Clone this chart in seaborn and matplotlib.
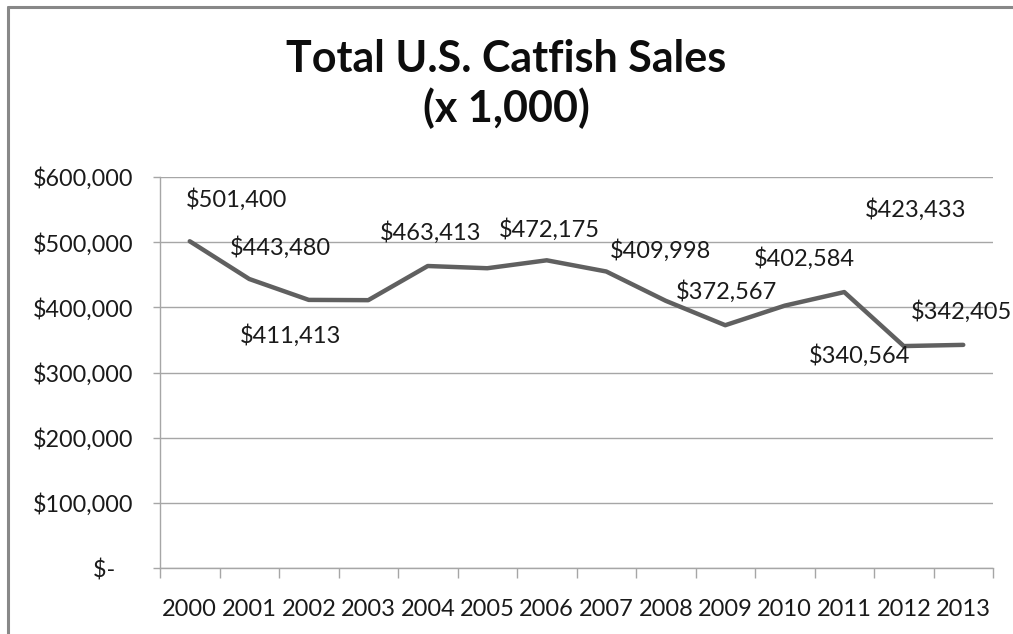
import matplotlib
matplotlib.use("Agg")
import matplotlib.pyplot as plt
from matplotlib.lines import Line2D
from matplotlib.ticker import FuncFormatter, FixedLocator
import seaborn as sns
import pandas as pd

years = ["2000", "2001", "2002", "2003", "2004", "2005", "2006",
         "2007", "2008", "2009", "2010", "2011", "2012", "2013"]
sales = [501400, 443480, 411413, 411000, 463413, 460000, 472175,
         455000, 409998, 372567, 402584, 423433, 340564, 342405]
# which points carry a data label (as shown in the reference)
labelled = [0, 1, 2, 4, 6, 8, 9, 10, 11, 12, 13]
# label offsets in pixels (dx, dy; dy positive = up)
label_offsets = {0: (47, 42), 1: (31, 31), 2: (-18, -36), 4: (3, 33),
                 6: (3, 31), 8: (-5, 50), 9: (1, 34), 10: (20, 47),
                 11: (71, 83), 12: (-44, -9), 13: (-2, 33)}
title = "Total U.S. Catfish Sales\n(x 1,000)"

sns.set_theme(style="white")
plt.rcParams['font.family'] = ['Lato', 'DejaVu Sans']

df = pd.DataFrame({"year": years, "sales": sales})

fig = plt.figure(figsize=(10.13, 6.34), dpi=100)
ax = fig.add_axes([160/1013, 1-568/634, (993-160)/1013, (568-177)/634])

sns.lineplot(data=df, x="year", y="sales", ax=ax, color="#606060",
             linewidth=3.2, sort=False)

ax.set_xlim(-0.5, len(years) - 0.5)
ax.set_ylim(0, 600000)
ax.set_yticks(range(0, 600001, 100000))

def fmt(v, pos):
    if v == 0:
        return "$-   "
    return "${:,.0f}".format(v)
ax.yaxis.set_major_formatter(FuncFormatter(fmt))

ax.grid(axis="y", color="#a6a6a6", linewidth=1)
ax.grid(axis="x", visible=False)
ax.set_xlabel("")
ax.set_ylabel("")

for s in ["top", "right"]:
    ax.spines[s].set_visible(False)
for s in ["left", "bottom"]:
    ax.spines[s].set_color("#a6a6a6")
    ax.spines[s].set_linewidth(1)

ax.tick_params(axis="y", which="major", left=True, length=5, width=1,
               color="#a6a6a6", labelsize=16.8, pad=14, labelcolor="#1a1a1a")
ax.tick_params(axis="x", which="major", bottom=False, labelsize=17,
               pad=16, labelcolor="#1a1a1a")
ax.xaxis.set_minor_locator(FixedLocator([i - 0.5 for i in range(len(years) + 1)]))
ax.tick_params(axis="x", which="minor", bottom=True, length=7, width=1,
               color="#a6a6a6")

for i in labelled:
    dx, dy = label_offsets[i]
    ax.annotate("${:,}".format(sales[i]), xy=(i, sales[i]),
                xytext=(dx * 0.72, dy * 0.72), textcoords="offset points",
                ha="center", va="center", fontsize=17, color="#1a1a1a",
                annotation_clip=False)

fig.text(0.5, 1 - 84/634, title, ha="center", va="center", fontsize=31,
         fontweight="bold", color="#0d0d0d", linespacing=1.22)

fig.add_artist(Line2D([8/1013, 8/1013], [0, 1 - 7/634], transform=fig.transFigure,
                      color="#888888", linewidth=2.2))
fig.add_artist(Line2D([8/1013, 1], [1 - 7/634, 1 - 7/634], transform=fig.transFigure,
                      color="#888888", linewidth=2.2))

fig.savefig("out.png", dpi=100)
